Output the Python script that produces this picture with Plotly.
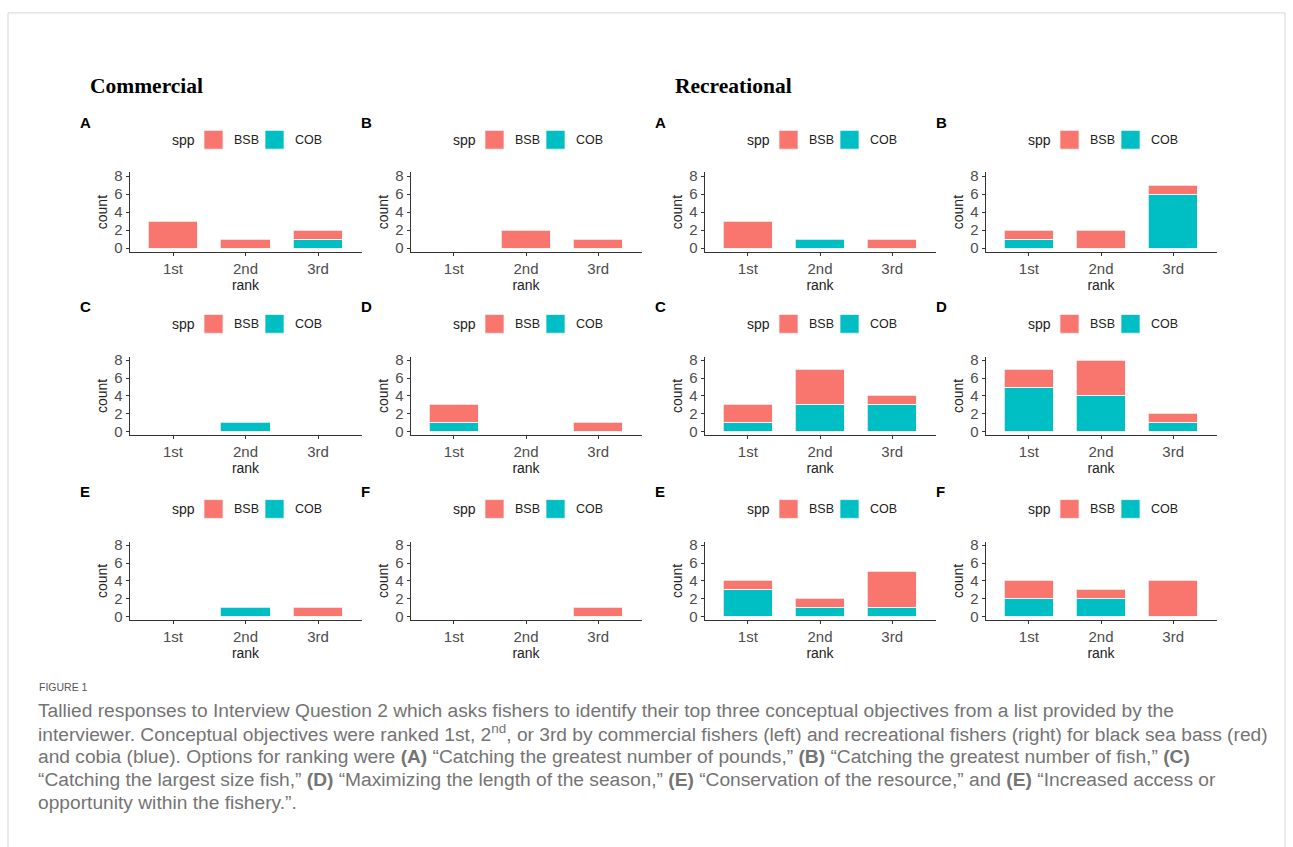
import plotly.graph_objects as go

W, H = 1293, 847

ranks = ["1st", "2nd", "3rd"]
species = ["BSB", "COB"]
panel_letters = ["A", "B", "C", "D", "E", "F"]
groups = ["Commercial", "Recreational"]

# counts per panel (A..F), per rank (1st, 2nd, 3rd)
commercial_bsb = [[3, 1, 1], [0, 2, 1], [0, 0, 0], [2, 0, 1], [0, 0, 1], [0, 0, 1]]
commercial_cob = [[0, 0, 1], [0, 0, 0], [0, 1, 0], [1, 0, 0], [0, 1, 0], [0, 0, 0]]
recreational_bsb = [[3, 0, 1], [1, 2, 1], [2, 4, 1], [2, 4, 1], [1, 1, 4], [2, 1, 4]]
recreational_cob = [[0, 1, 0], [1, 0, 6], [1, 3, 3], [5, 4, 1], [3, 1, 1], [2, 2, 0]]

y_ticks = [0, 2, 4, 6, 8]

caption_title = "FIGURE 1"
caption_lines = [
    "Tallied responses to Interview Question 2 which asks fishers to identify their top three conceptual objectives from a list provided by the",
    "interviewer. Conceptual objectives were ranked 1st, 2<sup>nd</sup>, or 3rd by commercial fishers (left) and recreational fishers (right) for black sea bass (red)",
    "and cobia (blue). Options for ranking were <b>(A)</b> \u201cCatching the greatest number of pounds,\u201d <b>(B)</b> \u201cCatching the greatest number of fish,\u201d <b>(C)</b>",
    "\u201cCatching the largest size fish,\u201d <b>(D)</b> \u201cMaximizing the length of the season,\u201d <b>(E)</b> \u201cConservation of the resource,\u201d and <b>(E)</b> \u201cIncreased access or",
    "opportunity within the fishery.\u201d.",
]

COLORS = {"BSB": "#F8766D", "COB": "#00BFC4"}
FONT = "Liberation Sans, Arial, sans-serif"

col_left = [129.5, 410.5, 704.5, 985.5]
col_right = [361.5, 641.5, 935.5, 1216.5]
row_top = [169.4, 355.7, 543.0]
row_bottom = [249.7, 435.6, 622.5]


def px(x):
    return x / W


def py(y):
    return 1 - y / H


fig = go.Figure()
shapes = []
annotations = []
layout_axes = {}

idx = 0
for r in range(3):
    for c in range(4):
        idx += 1
        g = 0 if c < 2 else 1
        p = r * 2 + (c % 2)
        bsb = (commercial_bsb if g == 0 else recreational_bsb)[p]
        cob = (commercial_cob if g == 0 else recreational_cob)[p]
        xa = "x" if idx == 1 else f"x{idx}"
        ya = "y" if idx == 1 else f"y{idx}"
        for name, vals in (("COB", cob), ("BSB", bsb)):
            fig.add_trace(go.Bar(
                x=ranks, y=[v if v else None for v in vals], name=name, xaxis=xa, yaxis=ya,
                width=0.68,
                marker=dict(color=COLORS[name], line=dict(color="#F4F4F4", width=0.8)),
                showlegend=False,
            ))
        xkey = "xaxis" if idx == 1 else f"xaxis{idx}"
        ykey = "yaxis" if idx == 1 else f"yaxis{idx}"
        layout_axes[xkey] = dict(
            domain=[px(col_left[c]), px(col_right[c])], anchor=ya,
            type="category", categoryorder="array", categoryarray=ranks,
            range=[-0.6, 2.6], showline=True, linecolor="#333333", linewidth=1,
            ticks="outside", ticklen=3, tickcolor="#333333",
            tickfont=dict(size=15, color="#4D4D4D", family=FONT),
            title=dict(text="rank", font=dict(size=14, color="#222222", family=FONT), standoff=2),
            showgrid=False, zeroline=False, fixedrange=True,
        )
        layout_axes[ykey] = dict(
            domain=[py(row_bottom[r]), py(row_top[r])], anchor=xa,
            range=[-0.4, 8.4], tickvals=y_ticks, showline=True, linecolor="#333333", linewidth=1,
            ticks="outside", ticklen=3, tickcolor="#333333",
            tickfont=dict(size=15, color="#4D4D4D", family=FONT),
            title=dict(text="count", font=dict(size=14, color="#222222", family=FONT), standoff=3),
            showgrid=False, zeroline=False, fixedrange=True,
        )
        L = col_left[c]
        T = row_top[r]
        ly = T - 33
        # legend
        annotations.append(dict(x=px(L + 40), y=py(ly), xref="paper", yref="paper", text="spp",
                                showarrow=False, xanchor="left", yanchor="middle",
                                font=dict(size=14, color="#222222", family=FONT)))
        for k, (sp, kx, tx) in enumerate((("BSB", 74.5, 102.5), ("COB", 135.5, 163.5))):
            shapes.append(dict(type="rect", xref="paper", yref="paper",
                               x0=px(L + kx), x1=px(L + kx + 19), y0=py(ly + 9.5), y1=py(ly - 9.5),
                               fillcolor=COLORS[sp], line=dict(color="#F2F2F2", width=0.8)))
            annotations.append(dict(x=px(L + tx), y=py(ly), xref="paper", yref="paper", text=sp,
                                    showarrow=False, xanchor="left", yanchor="middle",
                                    font=dict(size=12.5, color="#222222", family=FONT)))
        # panel letter
        annotations.append(dict(x=px(L - 52), y=py(T - 51), xref="paper", yref="paper",
                                text=f"<b>{panel_letters[p]}</b>", showarrow=False,
                                xanchor="left", yanchor="middle",
                                font=dict(size=15, color="#000000", family=FONT)))

# group headers
for text, x in ((groups[0], 88), (groups[1], 673)):
    annotations.append(dict(x=px(x), y=py(82), xref="paper", yref="paper", text=f"<b>{text}</b>",
                            showarrow=False, xanchor="left", yanchor="middle",
                            font=dict(size=21.5, color="#000000", family="Liberation Serif, Times New Roman, serif")))

# caption
annotations.append(dict(x=px(37), y=py(690), xref="paper", yref="paper", text=caption_title,
                        showarrow=False, xanchor="left", yanchor="middle",
                        font=dict(size=10.5, color="#555555", family=FONT)))
for i, line in enumerate(caption_lines):
    annotations.append(dict(x=px(36), y=py(714 + i * 23.2), xref="paper", yref="paper", text=line,
                            showarrow=False, xanchor="left", yanchor="middle",
                            font=dict(size=19.2, color="#747474", family=FONT)))

# outer frame
shapes.append(dict(type="rect", xref="paper", yref="paper", x0=px(8), x1=px(1285), y0=py(870), y1=py(8),
                   line=dict(color="#D6D6D6", width=1), fillcolor="rgba(0,0,0,0)", layer="below"))

fig.update_layout(
    width=W, height=H, margin=dict(l=0, r=0, t=0, b=0),
    paper_bgcolor="white", plot_bgcolor="white",
    barmode="stack", bargap=0, showlegend=False,
    shapes=shapes, annotations=annotations,
    font=dict(family=FONT),
    **layout_axes,
)

fig.write_html(
    "out.html",
    config={"displayModeBar": False},
    post_script=(
        "document.documentElement.style.margin='0';"
        "document.body.style.margin='0';document.body.style.overflow='hidden';"
        "var d=document.getElementById('{plot_id}');"
        "d.style.position='fixed';d.style.top='0';d.style.left='0';"
    ),
)
